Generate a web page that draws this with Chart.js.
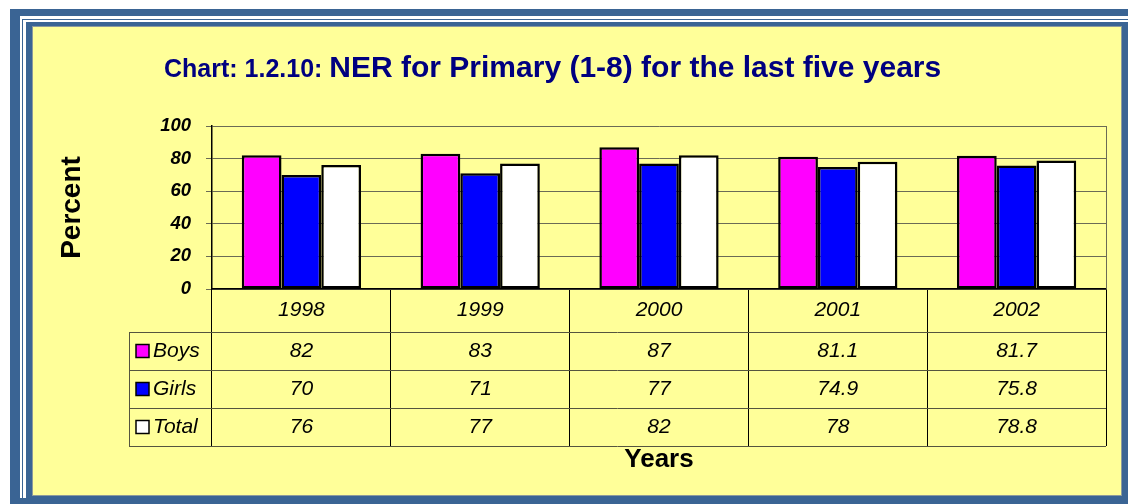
<!DOCTYPE html>
<html>
<head>
<meta charset="utf-8">
<script src="https://cdn.jsdelivr.net/npm/chart.js@4/dist/chart.umd.min.js"></script>
<style>
  body { margin: 0; background: #fff; }
  #wrap { position: relative; width: 1128px; height: 504px; overflow: hidden; }
  .blk { position: absolute; }
  #myChart { position: absolute; left: 0; top: 0; }
</style>
</head>
<body>
<div id="wrap">
  <div class="blk" style="left:10px;top:9px;width:1118px;height:495px;background:#3a6494;"></div>
  <!-- white double stripe, top and left only -->
  <div class="blk" style="left:20px;top:16px;width:1108px;height:3px;background:#fff;"></div>
  <div class="blk" style="left:20px;top:16px;width:2px;height:482px;background:#fff;"></div>
  <div class="blk" style="left:23px;top:20px;width:1105px;height:2px;background:#fff;"></div>
  <div class="blk" style="left:23px;top:20px;width:3px;height:478px;background:#fff;"></div>
  <div class="blk" style="left:32px;top:26px;width:1088px;height:468px;background:#ffff99;border:1px solid #8c9a9c;"></div>
  <canvas id="myChart" width="1128" height="504"></canvas>
</div>
<script>
var years = ['1998', '1999', '2000', '2001', '2002'];
var seriesNames = ['Boys', 'Girls', 'Total'];
var boys = [82, 83, 87, 81.1, 81.7];
var girls = [70, 71, 77, 74.9, 75.8];
var total = [76, 77, 82, 78, 78.8];
var yTicks = [0, 20, 40, 60, 80, 100];
var colors = ['#ff00ff', '#0000ff', '#ffffff'];

Chart.defaults.font.family = '"Liberation Sans", Arial, sans-serif';
Chart.defaults.color = '#000';

var TABLE_H = 157;   // axis down to bottom of table
var YEAR_ROW = 43;

// draws title, plot frame and the data table under the x axis
var tablePlugin = {
  id: 'dataTable',
  afterDraw: function(chart) {
    var ctx = chart.ctx;
    var area = chart.chartArea;
    var x = chart.scales.x;
    var rows = [boys, girls, total];
    var rowH = (TABLE_H - YEAR_ROW) / rows.length;
    var legLeft = 129;

    ctx.save();
    // title
    ctx.fillStyle = '#000080';
    ctx.textBaseline = 'alphabetic';
    ctx.textAlign = 'left';
    ctx.font = 'bold 25px "Liberation Sans", Arial, sans-serif';
    var t1 = 'Chart: 1.2.10: ';
    ctx.fillText(t1, 164, 77);
    var w1 = ctx.measureText(t1).width;
    ctx.font = 'bold 30px "Liberation Sans", Arial, sans-serif';
    ctx.fillText('NER for Primary (1-8) for the last five years', 164 + w1, 77);

    // right edge of plot area
    ctx.strokeStyle = '#6b6b55';
    ctx.lineWidth = 1;
    ctx.beginPath();
    ctx.moveTo(area.right + 0.5, area.top);
    ctx.lineTo(area.right + 0.5, area.bottom);
    ctx.stroke();

    // table horizontal lines
    var top0 = area.bottom + YEAR_ROW;
    ctx.strokeStyle = '#55553f';
    ctx.beginPath();
    for (var r = 0; r <= rows.length; r++) {
      var yy = Math.round(top0 + r * rowH) + 0.5;
      ctx.moveTo(legLeft, yy);
      ctx.lineTo(area.right, yy);
    }
    ctx.moveTo(legLeft + 0.5, top0);
    ctx.lineTo(legLeft + 0.5, area.bottom + TABLE_H);
    ctx.stroke();

    ctx.fillStyle = '#000';
    ctx.textBaseline = 'middle';
    ctx.textAlign = 'center';
    ctx.font = 'italic 21px "Liberation Sans", Arial, sans-serif';
    years.forEach(function(yr, i) {
      ctx.fillText(yr, x.getPixelForValue(i), area.bottom + YEAR_ROW / 2);
    });

    rows.forEach(function(vals, r) {
      var cy = top0 + r * rowH + rowH / 2;
      vals.forEach(function(v, i) {
        ctx.textAlign = 'center';
        ctx.fillText(String(v), x.getPixelForValue(i), cy);
      });
      // legend key
      ctx.fillStyle = colors[r];
      ctx.fillRect(136, cy - 6.5, 13, 13);
      ctx.strokeStyle = '#000';
      ctx.lineWidth = 1.5;
      ctx.strokeRect(136, cy - 6.5, 13, 13);
      ctx.fillStyle = '#000';
      ctx.textAlign = 'left';
      ctx.fillText(seriesNames[r], 153, cy);
    });
    ctx.restore();
  }
};

var ctx = document.getElementById('myChart');
var myChart = new Chart(ctx, {
  type: 'bar',
  data: {
    labels: years,
    datasets: [
      { label: seriesNames[0], data: boys, backgroundColor: colors[0] },
      { label: seriesNames[1], data: girls, backgroundColor: colors[1] },
      { label: seriesNames[2], data: total, backgroundColor: colors[2] }
    ]
  },
  options: {
    responsive: false,
    animation: false,
    devicePixelRatio: 1,
    layout: { padding: { left: 40, top: 126, right: 22, bottom: 0 } },
    datasets: {
      bar: {
        borderColor: '#000',
        borderWidth: 2.5,
        borderSkipped: false,
        categoryPercentage: 0.667,
        barPercentage: 1.0
      }
    },
    plugins: {
      legend: { display: false },
      title: { display: false },
      tooltip: { enabled: false }
    },
    scales: {
      x: {
        ticks: { display: false },
        grid: {
          offset: true,
          drawOnChartArea: false,
          drawTicks: true,
          tickLength: TABLE_H,
          color: '#000',
          lineWidth: 1
        },
        border: { display: true, color: '#000', width: 1.5 },
        title: {
          display: true,
          text: 'Years',
          font: { size: 26, weight: 'bold' },
          color: '#000',
          padding: { top: 0, bottom: 29 }
        },
        afterFit: function(scale) { scale.height = 215; }
      },
      y: {
        min: 0,
        max: 100,
        afterBuildTicks: function(scale) {
          scale.ticks = yTicks.map(function(v) { return { value: v }; });
        },
        ticks: {
          font: { size: 18.5, weight: 'bold', style: 'italic' },
          color: '#000',
          padding: 15
        },
        grid: {
          color: '#6b6b55',
          lineWidth: 1,
          tickLength: 6,
          tickColor: '#6b6b55'
        },
        border: { display: true, color: '#000', width: 1.5 },
        title: {
          display: true,
          text: 'Percent',
          font: { size: 28, weight: 'bold' },
          color: '#000',
          padding: { top: 15, bottom: 0 }
        },
        afterFit: function(scale) { scale.width = 172; }
      }
    }
  },
  plugins: [tablePlugin]
});
</script>
</body>
</html>
